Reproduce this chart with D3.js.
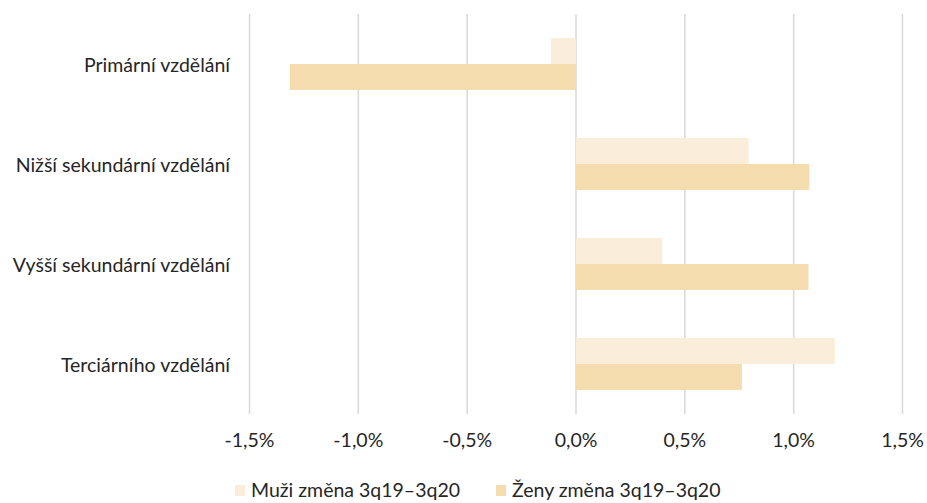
<!DOCTYPE html>
<html><head><meta charset="utf-8">
<script src="https://cdn.jsdelivr.net/npm/d3@7"></script>
<style>body{margin:0;background:#fff}svg{display:block}text{font-family:Lato,"Open Sans",sans-serif;fill:#262626}</style>
</head><body>
<svg id="c" width="927" height="503"></svg>
<script>
const categories = ["Primární vzdělání","Nižší sekundární vzdělání","Vyšší sekundární vzdělání","Terciárního vzdělání"];
const seriesNames = ["Muži změna 3q19–3q20","Ženy změna 3q19–3q20"];
const muzi = [-0.00115, 0.00793, 0.00396, 0.01189];
const zeny = [-0.01315, 0.01072, 0.01068, 0.00762];
const tickValues = [-0.015,-0.01,-0.005,0,0.005,0.01,0.015];
const colors = ["#FAEEDA","#F5DCAE"];

const svg = d3.select("#c");
const FS = 19.5;
const x = d3.scaleLinear().domain([-0.015,0.015]).range([249.5,902.5]);
const y0 = d3.scaleBand().domain(categories).range([14,414]).paddingInner(0.48).paddingOuter(0.24);
const y1 = d3.scaleBand().domain(seriesNames).range([0,y0.bandwidth()]);
const fmt = v => d3.format(".1f")(v*100).replace(".",",").replace("\u2212","-") + "%";

// gridlines
svg.append("g").selectAll("line").data(tickValues).join("line")
  .attr("x1",d=>x(d)).attr("x2",d=>x(d)).attr("y1",14).attr("y2",414)
  .attr("stroke","#D9D9D9").attr("stroke-width",1.5);

// bars
const data = categories.map((c,i)=>({c, vals:[muzi[i],zeny[i]]}));
const g = svg.append("g").selectAll("g").data(data).join("g")
  .attr("transform",d=>`translate(0,${y0(d.c)})`);
g.selectAll("rect").data(d=>d.vals.map((v,j)=>({v,s:seriesNames[j],j}))).join("rect")
  .attr("x",d=>Math.min(x(0),x(d.v))).attr("width",d=>Math.abs(x(d.v)-x(0)))
  .attr("y",d=>y1(d.s)).attr("height",y1.bandwidth())
  .attr("fill",d=>colors[d.j]);

// category labels
svg.append("g").selectAll("text").data(categories).join("text")
  .attr("x",230).attr("y",d=>y0(d)+y0.bandwidth()/2)
  .attr("text-anchor","end").attr("dominant-baseline","central")
  .style("font-size",FS+"px").text(d=>d);

// x tick labels
svg.append("g").selectAll("text").data(tickValues).join("text")
  .attr("x",d=>x(d)).attr("y",447)
  .attr("text-anchor","middle").style("font-size",FS+"px").text(fmt);

// legend
const legX = [235,496];
const lg = svg.append("g").selectAll("g").data(seriesNames).join("g")
  .attr("transform",(d,i)=>`translate(${legX[i]},485)`);
lg.append("rect").attr("width",10).attr("height",11).attr("fill",(d,i)=>colors[i]);
lg.append("text").attr("x",16).attr("y",12).style("font-size",FS+"px").text(d=>d);
</script>
</body></html>
